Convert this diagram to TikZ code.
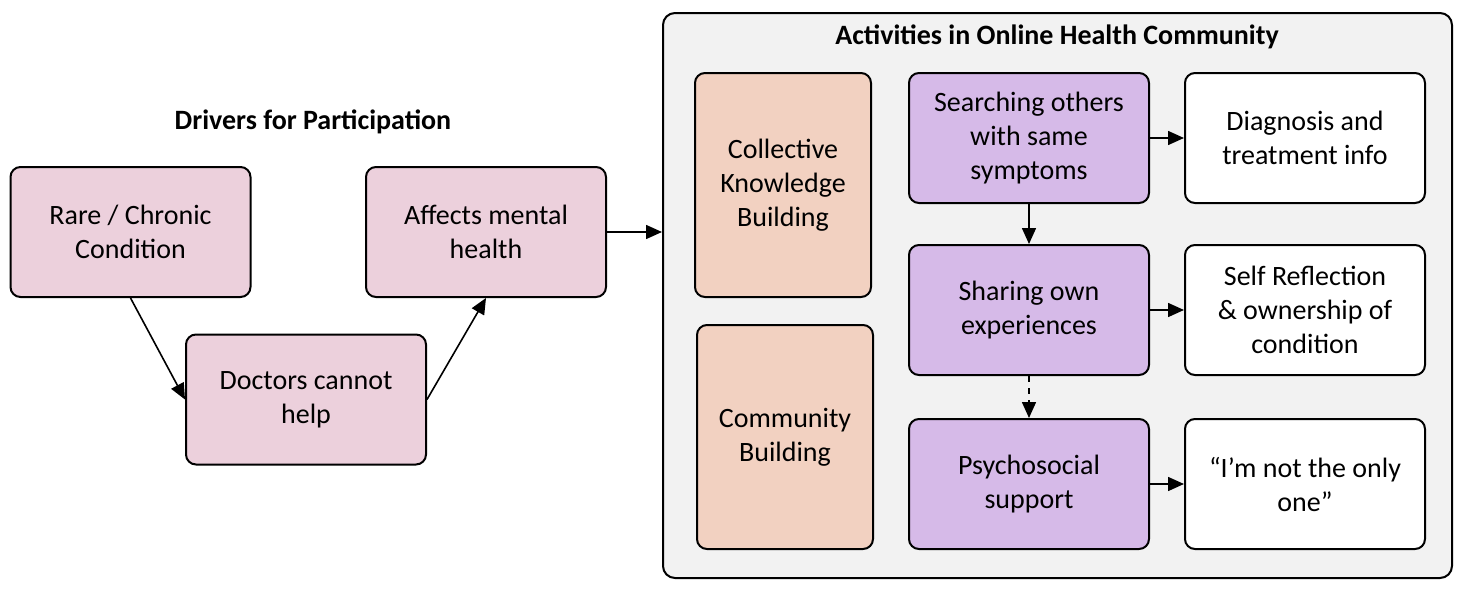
\documentclass[tikz,border=0pt]{standalone}
\usepackage{fontspec}
\setmainfont{Carlito}
\usetikzlibrary{arrows.meta,positioning}

\definecolor{driverpink}{RGB}{236,208,220}
\definecolor{buildpeach}{RGB}{242,209,193}
\definecolor{actlilac}{RGB}{214,186,232}
\definecolor{ohcgray}{RGB}{242,242,242}

\begin{document}
\begin{tikzpicture}[x=0.5pt,y=-0.5pt,->,>={Triangle[length=8pt,width=7pt]},line width=0.8pt,
		font=\fontsize{14}{17}\selectfont,node distance=80pt,on grid,
		box/.style={draw,line width=1pt,rounded corners=5pt,align=center,
			minimum width=120pt,minimum height=65pt},
		driver/.style={box,fill=driverpink},
		build/.style={box,fill=buildpeach,minimum width=88pt,minimum height=112pt},
		act/.style={box,fill=actlilac},
		outcome/.style={box,fill=white},
		heading/.style={font=\fontsize{14}{17}\selectfont\bfseries}]

		\useasboundingbox (0,0) rectangle (1464,594);

		% drivers
		\node[heading] (drvtitle) at (313,122) {Drivers for Participation};
		\node[driver] (rare) at (130.5,232) {Rare / Chronic\\Condition};
		\node[driver] (doctors) [below right=83.75pt and 87.75pt of rare] {Doctors cannot\\help};
		\node[driver] (mental) [right=177.75pt of rare] {Affects mental\\health};

		% online health community
		\node[draw,line width=1pt,rounded corners=6pt,fill=ohcgray,minimum width=394.5pt,
			minimum height=282.5pt] (ohc) at (1057.5,295.5) {};
		\node[heading] (ohctitle) at (1057,37) {Activities in Online Health Community};
		\node[build] (collective) at (783,185) {Collective\\Knowledge\\Building};
		\node[build] (community) [below right=126pt and 1pt of collective] {Community\\Building};

		\node[act] (search) at (1029,138) {Searching others\\with same\\symptoms};
		\node[act] (share) [below=86pt of search] {Sharing own\\experiences};
		\node[act] (psycho) [below=87pt of share] {Psychosocial\\support};
		\node[outcome] (diag) [right=138pt of search] {Diagnosis and\\treatment info};
		\node[outcome] (reflect) [right=138pt of share] {Self Reflection\\\& ownership of\\condition};
		\node[outcome] (notalone) [right=138pt of psycho] {“I’m not the only\\one”};

		\path
		(rare.south) edge (doctors.west)
		(doctors.east) edge (mental.south)
		(mental.east) edge (mental.east -| ohc.west)
		(search.south) edge (share.north)
		(search.east) edge (diag.west)
		(share.east) edge (reflect.west)
		(psycho.east) edge (notalone.west)
		(share.south) edge[dashed] (psycho.north);
	\end{tikzpicture}
\end{document}
